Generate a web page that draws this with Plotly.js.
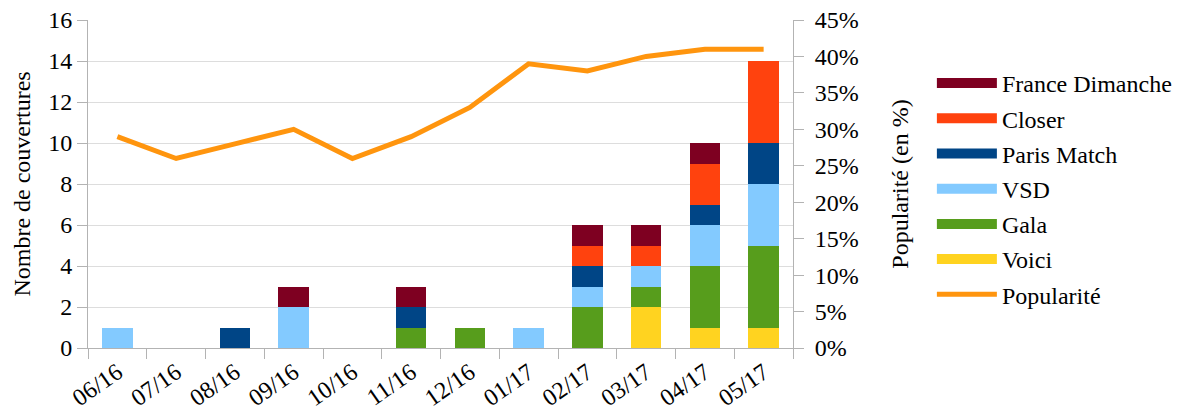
<!DOCTYPE html>
<html>
<head>
<meta charset="utf-8">
<script src="https://cdn.plot.ly/plotly-3.0.1.min.js"></script>
</head>
<body style="margin:0">
<div id="chart" style="width:1189px;height:414px"></div>
<script>
const months = ["06/16","07/16","08/16","09/16","10/16","11/16","12/16","01/17","02/17","03/17","04/17","05/17"];
const voici          = [0,0,0,0,0,0,0,0,0,2,1,1];
const gala           = [0,0,0,0,0,1,1,0,2,1,3,4];
const vsd            = [1,0,0,2,0,0,0,1,1,1,2,3];
const parisMatch     = [0,0,1,0,0,1,0,0,1,0,1,2];
const closer         = [0,0,0,0,0,0,0,0,1,1,2,4];
const franceDimanche = [0,0,0,1,0,1,0,0,1,1,1,0];
const popularite     = [0.29,0.26,0.28,0.30,0.26,0.29,0.33,0.39,0.38,0.40,0.41,0.41];

const FONT = "Times New Roman";
const SZ = 24;
const series = [
  ["Voici", voici, "#ffd320", 6],
  ["Gala", gala, "#579d1c", 5],
  ["VSD", vsd, "#83caff", 4],
  ["Paris Match", parisMatch, "#004586", 3],
  ["Closer", closer, "#ff420e", 2],
  ["France Dimanche", franceDimanche, "#7e0021", 1]
];
const data = [];
series.forEach(([name, y, color, rank]) => {
  data.push({type:"bar", name:name, x:months, y:y, marker:{color:color, line:{width:0}},
             showlegend:false, legendgroup:name, hoverinfo:"skip"});
});
series.forEach(([name, y, color, rank]) => {
  data.push({type:"scatter", mode:"lines", name:name, x:[months[0]], y:[null], legendgroup:name,
             line:{color:color, width:14}, legendrank:rank, hoverinfo:"skip"});
});
data.push({type:"scatter", mode:"lines", name:"Popularité", x:months, y:popularite, yaxis:"y2",
   legendgroup:"Popularité", line:{color:"#ff950e", width:5}, legendrank:7, hoverinfo:"skip"});

function f(){ return {family:FONT, size:SZ, color:"#000"}; }
const layout = {
  width:1189, height:414,
  margin:{l:88, r:379, t:20, b:66},
  paper_bgcolor:"#fff", plot_bgcolor:"#fff",
  font:f(),
  barmode:"stack", bargap:0.48,
  showlegend:true,
  legend:{x:1.197, y:0.875, xanchor:"left", yanchor:"top", traceorder:"grouped",
          font:f(), itemwidth:60, tracegroupgap:1, bgcolor:"rgba(0,0,0,0)"},
  xaxis:{type:"category", tickson:"boundaries", ticks:"outside", ticklen:10, tickcolor:"#b3b3b3",
         showline:true, linecolor:"#b3b3b3", linewidth:1, showgrid:false, tickangle:-35,
         tickfont:f(), range:[-0.5, 11.5]},
  yaxis:{range:[0,16], dtick:2, ticks:"outside", ticklen:10, tickcolor:"#b3b3b3",
         showline:true, linecolor:"#b3b3b3", gridcolor:"#dddddd", zeroline:false, tickfont:f(),
         title:{text:"Nombre de couvertures", font:f(), standoff:10}},
  yaxis2:{overlaying:"y", side:"right", range:[0,0.45], dtick:0.05, tickformat:".0%",
          ticks:"outside", ticklen:10, tickcolor:"#b3b3b3", showline:true, linecolor:"#b3b3b3",
          showgrid:false, zeroline:false, ticklabelstandoff:6, tickfont:f(),
          title:{text:"Popularité (en %)", font:f(), standoff:33}}
};
Plotly.newPlot("chart", data, layout, {staticPlot:true, displayModeBar:false});
</script>
</body>
</html>
